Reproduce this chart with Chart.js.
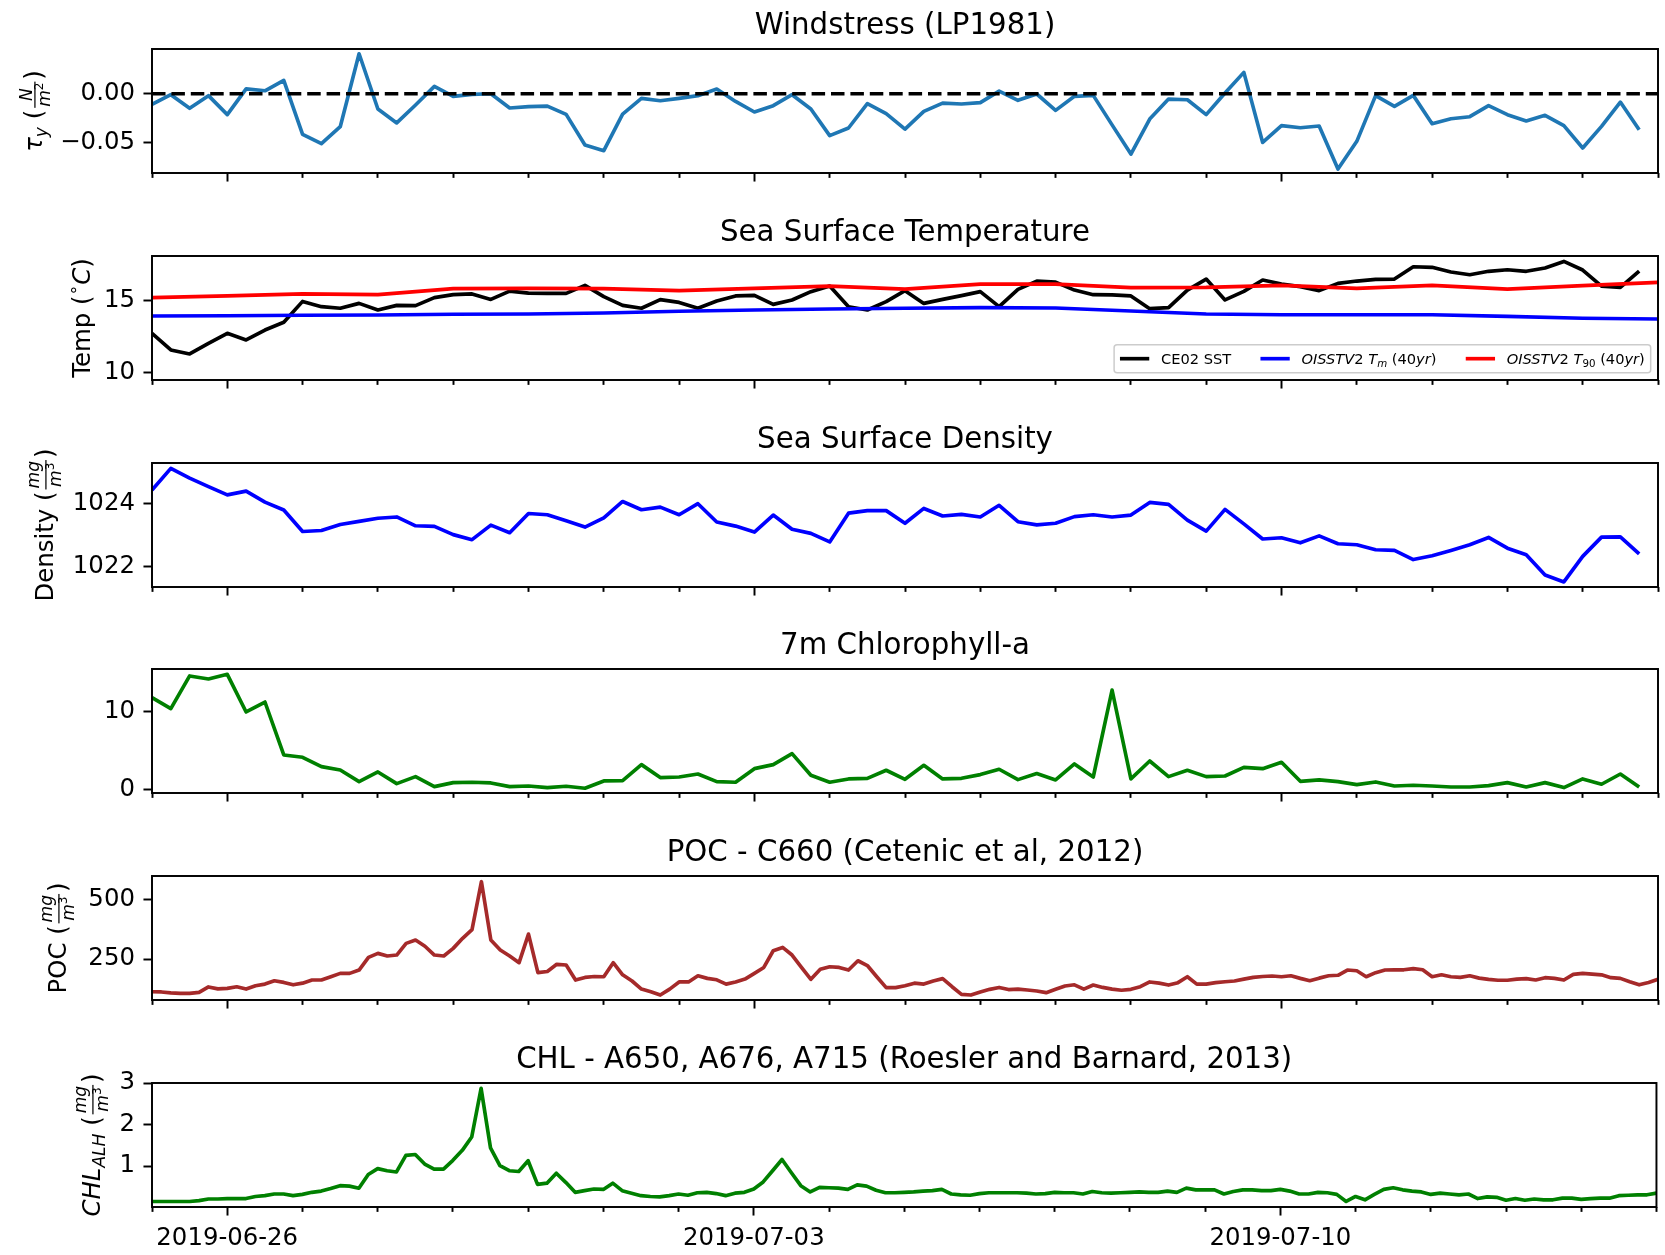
<!DOCTYPE html>
<html><head><meta charset="utf-8">
<script src="https://cdn.jsdelivr.net/npm/chart.js@4.4.1/dist/chart.umd.min.js"></script>
<style>
html,body{margin:0;padding:0;background:#fff;}
body{width:1665px;height:1255px;position:relative;overflow:hidden;}
canvas{position:absolute;left:0;}
</style></head><body>
<canvas id="c0"></canvas><canvas id="c1"></canvas><canvas id="c2"></canvas>
<canvas id="c3"></canvas><canvas id="c4"></canvas><canvas id="c5"></canvas>
<script>
// ---------------- DATA ----------------
// time axis: days since 2019-06-25 00:00
const X_MIN = 0, X_MAX = 20;
const STEP6H = 0.25, STEP3H = 0.125, STEP1D = 1;
const xDayTicks = [0,1,2,3,4,5,6,7,8,9,10,11,12,13,14,15,16,17,18,19,20];
const xMajorDays = [1, 8, 15];
const xTickLabels = ['2019-06-26', '2019-07-03', '2019-07-10'];

const titles = [
  'Windstress (LP1981)',
  'Sea Surface Temperature',
  'Sea Surface Density',
  '7m Chlorophyll-a',
  'POC - C660 (Cetenic et al, 2012)',
  'CHL - A650, A676, A715 (Roesler and Barnard, 2013)'
];

// 6-hourly wind stress tau_y (N/m2)
const windstress = [-0.011,-0.001,-0.015,-0.002,-0.0215,0.005,0.003,0.0137,-0.0417,-0.0513,
 -0.0339,0.041,-0.0157,-0.030,-0.0116,0.0075,-0.0027,-0.0007,0.000,-0.0147,
 -0.0133,-0.0127,-0.0212,-0.0527,-0.0585,-0.0209,-0.0048,-0.0072,-0.0048,-0.002,
 0.0048,-0.0079,-0.0188,-0.0123,-0.001,-0.0157,-0.043,-0.0352,-0.0103,-0.0205,
 -0.0363,-0.0181,-0.0096,-0.0106,-0.0092,0.0027,-0.0068,-0.0003,-0.0171,-0.0027,
 -0.0017,-0.032,-0.062,-0.026,-0.0055,-0.0062,-0.0215,0.0007,0.0219,-0.050,
 -0.0328,-0.0349,-0.0332,-0.0773,-0.0489,-0.002,-0.013,-0.0017,-0.0308,-0.0257,
 -0.0236,-0.0123,-0.0215,-0.028,-0.0222,-0.0328,-0.0557,-0.0335,-0.0086,-0.037];

// 6-hourly CE02 SST (deg C)
const sst = [12.72,11.56,11.28,12.02,12.72,12.26,12.95,13.49,14.95,14.58,
 14.47,14.81,14.35,14.67,14.65,15.21,15.42,15.47,15.09,15.67,
 15.53,15.51,15.51,16.07,15.28,14.67,14.47,15.07,14.88,14.47,
 14.98,15.33,15.37,14.74,15.05,15.63,16.02,14.58,14.35,14.93,
 15.70,14.81,15.09,15.35,15.63,14.58,15.79,16.37,16.30,15.74,
 15.42,15.40,15.33,14.44,14.51,15.74,16.51,15.05,15.65,16.44,
 16.16,15.98,15.70,16.21,16.37,16.49,16.51,17.37,17.33,17.00,
 16.81,17.05,17.16,17.05,17.28,17.74,17.14,16.02,15.93,17.07];

// daily OISSTV2 climatology (deg C)
const oisstTm = [13.93,13.95,13.98,14.0,14.05,14.07,14.14,14.26,14.35,14.42,14.47,
 14.51,14.49,14.28,14.07,14.02,14.02,14.02,13.9,13.77,13.72];
const oisstT90 = [15.21,15.33,15.47,15.42,15.84,15.86,15.84,15.70,15.86,16.02,15.81,
 16.16,16.16,15.91,15.93,16.07,15.86,16.07,15.81,16.05,16.28];

// 6-hourly surface density
const density = [1024.42,1025.11,1024.80,1024.53,1024.27,1024.39,1024.04,1023.79,1023.11,1023.14,
 1023.33,1023.43,1023.53,1023.57,1023.29,1023.27,1023.01,1022.85,1023.31,1023.07,
 1023.68,1023.64,1023.45,1023.25,1023.54,1024.06,1023.80,1023.88,1023.64,1023.99,
 1023.41,1023.28,1023.09,1023.63,1023.18,1023.05,1022.78,1023.69,1023.77,1023.77,
 1023.37,1023.84,1023.60,1023.65,1023.57,1023.94,1023.42,1023.32,1023.37,1023.58,
 1023.64,1023.57,1023.63,1024.03,1023.97,1023.47,1023.12,1023.81,1023.35,1022.87,
 1022.91,1022.75,1022.97,1022.72,1022.69,1022.53,1022.51,1022.22,1022.34,1022.51,
 1022.69,1022.92,1022.58,1022.37,1021.73,1021.51,1022.32,1022.93,1022.94,1022.40];

// 6-hourly 7m chlorophyll-a
const chl7m = [11.85,10.43,14.66,14.27,14.87,10.0,11.29,4.44,4.14,2.93,
 2.50,0.99,2.24,0.73,1.64,0.34,0.86,0.91,0.82,0.34,
 0.43,0.22,0.39,0.13,1.08,1.12,3.19,1.51,1.59,1.98,
 0.99,0.91,2.67,3.19,4.61,1.81,0.91,1.34,1.42,2.46,
 1.29,3.10,1.34,1.42,1.90,2.59,1.25,2.03,1.21,3.28,
 1.59,12.84,1.34,3.66,1.64,2.46,1.64,1.72,2.84,2.67,
 3.49,1.03,1.21,0.99,0.60,0.95,0.43,0.52,0.43,0.30,
 0.30,0.47,0.86,0.30,0.86,0.22,1.34,0.65,1.98,0.30];

// 3-hourly POC
const poc = [113,112,108,106,106,110,133,125,127,134,
 124,138,145,159,152,142,149,162,162,176,
 190,190,204,257,274,263,267,316,330,304,
 267,263,295,337,374,575,330,288,263,235,
 355,193,198,228,225,162,173,177,176,235,
 184,158,124,113,99,124,154,154,180,169,
 163,145,154,166,190,215,285,299,267,215,
 165,207,218,215,204,243,223,176,130,130,
 138,149,145,158,168,134,102,99,112,123,
 131,122,124,120,116,109,123,137,142,124,
 141,131,124,119,123,134,154,149,141,151,
 176,145,145,151,155,158,166,173,177,179,
 176,180,169,159,170,180,182,204,201,176,
 193,204,205,205,210,205,176,184,176,173,
 180,170,165,161,161,166,168,162,172,169,
 162,186,190,187,184,172,169,155,142,152,
 165];

// 3-hourly CHL_ALH
const chlAlh = [0.15,0.15,0.15,0.15,0.15,0.17,0.21,0.21,0.22,0.22,
 0.22,0.27,0.29,0.33,0.33,0.29,0.32,0.37,0.40,0.46,
 0.53,0.52,0.47,0.80,0.94,0.89,0.86,1.26,1.28,1.05,
 0.93,0.93,1.14,1.38,1.70,2.87,1.44,1.01,0.89,0.87,
 1.13,0.56,0.59,0.83,0.61,0.37,0.41,0.45,0.44,0.59,
 0.41,0.35,0.29,0.27,0.26,0.29,0.33,0.30,0.36,0.37,
 0.34,0.29,0.35,0.37,0.45,0.62,0.89,1.16,0.84,0.53,
 0.38,0.49,0.48,0.47,0.44,0.55,0.52,0.42,0.36,0.36,
 0.37,0.38,0.40,0.41,0.44,0.33,0.31,0.30,0.34,0.36,
 0.36,0.36,0.36,0.35,0.33,0.34,0.37,0.36,0.36,0.33,
 0.39,0.36,0.35,0.36,0.37,0.38,0.37,0.37,0.40,0.37,
 0.47,0.43,0.43,0.43,0.33,0.39,0.43,0.43,0.41,0.41,
 0.44,0.40,0.33,0.33,0.37,0.36,0.32,0.15,0.27,0.19,
 0.32,0.44,0.48,0.43,0.40,0.38,0.32,0.35,0.33,0.31,
 0.33,0.22,0.26,0.25,0.18,0.22,0.18,0.21,0.19,0.19,
 0.23,0.23,0.20,0.22,0.23,0.23,0.29,0.30,0.31,0.31,
 0.35];

// y-axis tick values
const yTicksWind = [-0.05, 0.00];
const yTicksTemp = [10, 15];
const yTicksDens = [1022, 1024];
const yTicksChl = [0, 10];
const yTicksPoc = [250, 500];
const yTicksAlh = [1, 2, 3];

// ---------------- STYLE / LAYOUT ----------------
const FONT = '"DejaVu Sans", sans-serif';
const PX = 175.7 / 72;
const F_TICK = 10 * PX, F_TITLE = 12 * PX, F_LEG = 6 * PX;
const LW = 1.5 * PX, SPINE = 0.8 * PX;
const TMAJ = 3.5 * PX, TMIN = 2 * PX, TPAD = 3.5 * PX, TITLE_PAD = 6 * PX;
const areaTops = [49, 256, 463, 669, 876, 1083];
const AREA_H = 124, TOPSPACE = 49;

const toXY = (vals, step) => vals.map((v, i) => ({ x: i * step, y: v }));
function line(data, color, extra) {
  return Object.assign({ data, borderColor: color, backgroundColor: color, borderWidth: LW,
    pointRadius: 0, fill: false, tension: 0, borderJoinStyle: 'round', borderCapStyle: 'butt', clip: 0 }, extra || {});
}

const frac = (num, den, nd) => ({ frac: [num, den], nd: nd, dh: 0.93 });
const mg_m3 = () => frac([{ t: 'mg', i: true }], [{ t: 'm', i: true }, { t: '3', s: 0.7, dy: -0.42 }], 0.24);

const panels = [
  { title: titles[0], yMin: -0.0814, yMax: 0.0459, yTicks: yTicksWind,
    fmt: v => v.toFixed(2).replace('-', '\u2212'),
    datasets: [
      line([{ x: X_MIN, y: 0 }, { x: X_MAX, y: 0 }], '#000000', { borderDash: [13.5, 5.9] }),
      line(toXY(windstress, STEP6H), '#1f77b4')
    ],
    ylabel: [{ t: 'τ', i: true }, { t: 'y', i: true, s: 0.7, dy: 0.22 }, { t: ' (' },
      frac([{ t: 'N', i: true }], [{ t: 'm', i: true }, { t: '2', s: 0.7, dy: -0.42 }], 0), { t: ')' }],
    ylx: 42 },
  { title: titles[1], yMin: 9.46, yMax: 18.12, yTicks: yTicksTemp, fmt: v => String(v),
    datasets: [
      line(toXY(oisstT90, STEP1D), '#ff0000'),
      line(toXY(oisstTm, STEP1D), '#0000ff'),
      line(toXY(sst, STEP6H), '#000000')
    ],
    ylabel: [{ t: 'Temp (' }, { t: '∘', s: 0.7, dy: -0.45 }, { t: 'C', i: true }, { t: ')' }],
    ylx: 90,
    legend: [
      { color: '#000000', segs: [{ t: 'CE02 SST' }] },
      { color: '#0000ff', segs: [{ t: 'OISSTV', i: true }, { t: '2' }, { t: ' ' }, { t: 'T', i: true }, { t: 'm', i: true, s: 0.7, dy: 0.2 }, { t: ' (40' }, { t: 'yr', i: true }, { t: ')' }] },
      { color: '#ff0000', segs: [{ t: 'OISSTV', i: true }, { t: '2' }, { t: ' ' }, { t: 'T', i: true }, { t: '90', s: 0.7, dy: 0.2 }, { t: ' (40' }, { t: 'yr', i: true }, { t: ')' }] }
    ] },
  { title: titles[2], yMin: 1021.35, yMax: 1025.28, yTicks: yTicksDens, fmt: v => String(v),
    datasets: [line(toXY(density, STEP6H), '#0000ff')],
    ylabel: [{ t: 'Density (' }, mg_m3(), { t: ')' }], ylx: 53 },
  { title: titles[3], yMin: -0.48, yMax: 15.56, yTicks: yTicksChl, fmt: v => String(v),
    datasets: [line(toXY(chl7m, STEP6H), '#008000')] },
  { title: titles[4], yMin: 78.2, yMax: 598.9, yTicks: yTicksPoc, fmt: v => String(v),
    datasets: [line(toXY(poc, STEP3H), '#a52a2a')],
    ylabel: [{ t: 'POC (' }, mg_m3(), { t: ')' }], ylx: 66 },
  { title: titles[5], yMin: 0.017, yMax: 3.0, yTicks: yTicksAlh, fmt: v => String(v),
    datasets: [line(toXY(chlAlh, STEP3H), '#008000')],
    ylabel: [{ t: 'CHL', i: true }, { t: 'ALH', i: true, s: 0.7, dy: 0.22 }, { t: ' (' }, mg_m3(), { t: ')' }],
    ylx: 100 }
];

// ---------------- RICH TEXT HELPERS ----------------
const fontStr = (size, italic) => (italic ? 'italic ' : '') + size.toFixed(2) + 'px ' + FONT;
function measureSegs(ctx, segs, F) {
  let w = 0;
  for (const g of segs) {
    if (g.frac) {
      const f = F * 0.7;
      const wn = measureSegs(ctx, g.frac[0], f), wd = measureSegs(ctx, g.frac[1], f);
      g._wn = wn; g._wd = wd; g._w = Math.max(wn, wd) + 0.24 * F;
    } else {
      ctx.font = fontStr(F * (g.s || 1), g.i);
      g._w = ctx.measureText(g.t).width;
    }
    w += g._w;
  }
  return w;
}
function drawSegs(ctx, segs, F, x, y) {
  for (const g of segs) {
    if (g.frac) {
      const f = F * 0.7;
      const th = Math.max(1.1, 0.05 * F);
      const barY = y - 0.29 * F;
      ctx.fillRect(x + 0.08 * F, barY - th / 2, g._w - 0.16 * F, th);
      const gap = 0.09 * F;
      measureSegs(ctx, g.frac[0], f);
      drawSegs(ctx, g.frac[0], f, x + (g._w - g._wn) / 2, barY - th / 2 - gap - g.nd * f);
      measureSegs(ctx, g.frac[1], f);
      drawSegs(ctx, g.frac[1], f, x + (g._w - g._wd) / 2, barY + th / 2 + gap + g.dh * f * 0.8);
    } else {
      ctx.font = fontStr(F * (g.s || 1), g.i);
      ctx.fillText(g.t, x, y + (g.dy || 0) * F);
    }
    x += g._w;
  }
}
function drawYLabel(ctx, segs, F, xBase, yCenter) {
  const w = measureSegs(ctx, segs, F);
  ctx.save();
  ctx.translate(xBase, yCenter);
  ctx.rotate(-Math.PI / 2);
  ctx.fillStyle = '#000'; ctx.textAlign = 'left'; ctx.textBaseline = 'alphabetic';
  drawSegs(ctx, segs, F, -w / 2, 0);
  ctx.restore();
}
function roundRect(ctx, x, y, w, h, r) {
  ctx.beginPath();
  ctx.moveTo(x + r, y); ctx.lineTo(x + w - r, y); ctx.arcTo(x + w, y, x + w, y + r, r);
  ctx.lineTo(x + w, y + h - r); ctx.arcTo(x + w, y + h, x + w - r, y + h, r);
  ctx.lineTo(x + r, y + h); ctx.arcTo(x, y + h, x, y + h - r, r);
  ctx.lineTo(x, y + r); ctx.arcTo(x, y, x + r, y, r); ctx.closePath();
}
function drawLegend(ctx, a, items) {
  const F = F_LEG;
  const widths = items.map(it => measureSegs(ctx, it.segs, F));
  const hl = 2 * F, htp = 0.8 * F, cs = 2 * F, bp = 0.4 * F;
  const totalW = 2 * bp + widths.reduce((s, w) => s + hl + htp + w, 0) + cs * (items.length - 1);
  const H = 28;
  const right = a.right - 0.5 * F, bottom = a.bottom - 0.5 * F;
  const left = right - totalW, top = bottom - H;
  ctx.save();
  roundRect(ctx, left, top, totalW, H, 3);
  ctx.fillStyle = 'rgba(255,255,255,0.8)'; ctx.fill();
  ctx.strokeStyle = '#cccccc'; ctx.lineWidth = 1.5; ctx.stroke();
  const cy = top + H / 2;
  let x = left + bp;
  items.forEach((it, j) => {
    ctx.strokeStyle = it.color; ctx.lineWidth = LW; ctx.lineCap = 'butt';
    ctx.beginPath(); ctx.moveTo(x, cy); ctx.lineTo(x + hl, cy); ctx.stroke();
    x += hl + htp;
    ctx.fillStyle = '#000'; ctx.textAlign = 'left'; ctx.textBaseline = 'alphabetic';
    measureSegs(ctx, it.segs, F);
    drawSegs(ctx, it.segs, F, x, cy + 0.36 * F);
    x += widths[j] + cs;
  });
  ctx.restore();
}
function decor(k) {
  return {
    id: 'decor' + k,
    afterDraw(chart) {
      const ctx = chart.ctx, a = chart.chartArea, p = panels[k];
      ctx.save();
      ctx.strokeStyle = '#000'; ctx.lineWidth = SPINE;
      ctx.strokeRect(a.left, a.top, a.right - a.left, a.bottom - a.top);
      ctx.fillStyle = '#000'; ctx.font = fontStr(F_TITLE, false);
      ctx.textAlign = 'center'; ctx.textBaseline = 'alphabetic';
      ctx.fillText(p.title, (a.left + a.right) / 2, a.top - TITLE_PAD);
      if (p.ylabel) drawYLabel(ctx, p.ylabel, F_TICK, p.ylx, (a.top + a.bottom) / 2);
      if (p.legend) drawLegend(ctx, a, p.legend);
      ctx.restore();
    }
  };
}

// ---------------- CHARTS ----------------
function makeChart(k) {
  const p = panels[k];
  const canvas = document.getElementById('c' + k);
  const isLast = k === panels.length - 1;
  const B = isLast ? 48 : 26;
  const H = TOPSPACE + AREA_H + B;
  canvas.width = 1665; canvas.height = H;
  canvas.style.top = (areaTops[k] - TOPSPACE) + 'px';
  new Chart(canvas, {
    type: 'line',
    data: { datasets: p.datasets },
    options: {
      responsive: false, animation: false, events: [], devicePixelRatio: 1,
      layout: { padding: { left: 0, right: 7, top: TOPSPACE, bottom: 0 } },
      plugins: { legend: { display: false }, tooltip: { enabled: false }, title: { display: false } },
      scales: {
        x: {
          type: 'linear', position: 'bottom', min: X_MIN, max: X_MAX,
          afterBuildTicks: s => { s.ticks = xDayTicks.map(v => ({ value: v })); },
          afterFit: s => { s.height = B; },
          border: { display: false },
          grid: {
            display: true, drawOnChartArea: false, drawTicks: true, tickLength: TMAJ,
            tickWidth: SPINE, tickColor: '#000',
            tickBorderDash: c => (c.tick && xMajorDays.includes(c.tick.value)) ? [] : [TMIN, 60]
          },
          ticks: {
            display: isLast, autoSkip: false, maxRotation: 0, minRotation: 0, padding: TPAD,
            color: '#000', font: { family: FONT, size: F_TICK },
            callback: v => { const j = xMajorDays.indexOf(v); return j >= 0 ? xTickLabels[j] : ''; }
          }
        },
        y: {
          type: 'linear', min: p.yMin, max: p.yMax,
          afterBuildTicks: s => { s.ticks = p.yTicks.map(v => ({ value: v })); },
          afterFit: s => { s.width = 152; },
          border: { display: false },
          grid: { display: true, drawOnChartArea: false, drawTicks: true, tickLength: TMAJ, tickWidth: SPINE, tickColor: '#000' },
          ticks: { padding: TPAD, color: '#000', font: { family: FONT, size: F_TICK }, callback: p.fmt }
        }
      }
    },
    plugins: [decor(k)]
  });
}
panels.forEach((_, k) => makeChart(k));
</script>
</body></html>
